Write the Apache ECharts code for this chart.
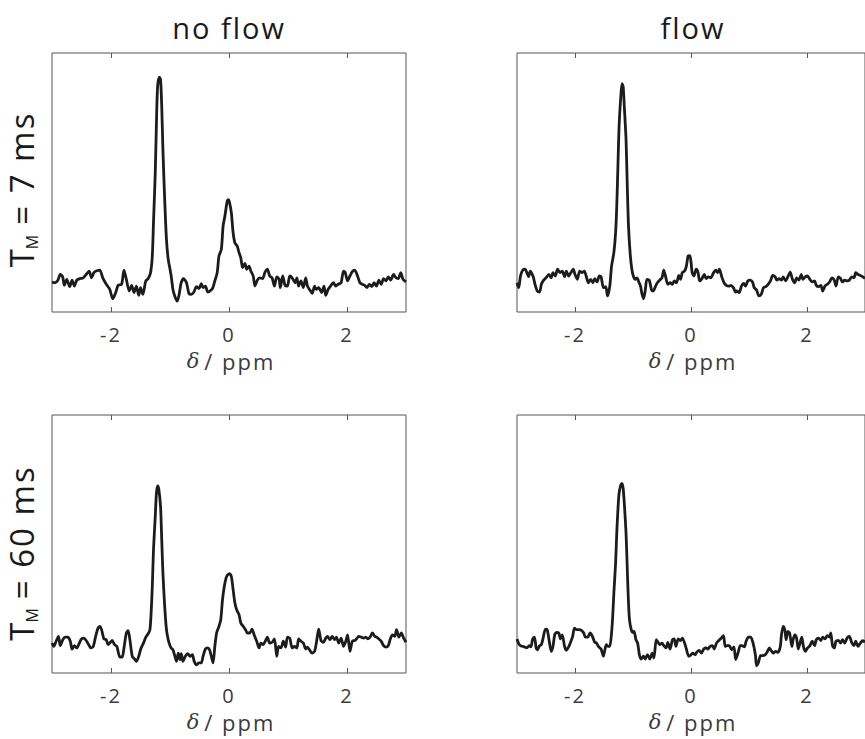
<!DOCTYPE html>
<html>
<head>
<meta charset="utf-8">
<script src="https://cdn.jsdelivr.net/npm/echarts@6.0.0/dist/echarts.min.js"></script>
<style>
  html, body { margin: 0; padding: 0; background: #fff; }
  #chart { width: 865px; height: 739px; }
  /* the original typesetting is a bit looser than Open Sans */
  #chart svg text { letter-spacing: 2px; }
</style>
</head>
<body>
<div id="chart"></div>
<script>
// spectra, [chemical shift in ppm, intensity in a.u.]
var noFlow7 = [
  [-3.00,11.6],[-2.95,11.3],[-2.90,12.3],[-2.86,14.5],[-2.82,13.6],[-2.79,10.3],[-2.75,12.6],[-2.70,9.8],
  [-2.66,12.3],[-2.62,10.0],[-2.58,12.3],[-2.53,12.9],[-2.47,13.2],[-2.42,14.5],[-2.37,15.8],[-2.33,13.2],
  [-2.29,15.2],[-2.25,15.8],[-2.19,16.2],[-2.14,13.2],[-2.08,10.7],[-2.02,8.7],[-1.97,5.1],[-1.92,7.5],
  [-1.88,10.3],[-1.82,10.7],[-1.78,16.2],[-1.74,12.6],[-1.69,8.1],[-1.65,10.3],[-1.61,7.5],[-1.57,10.0],
  [-1.53,6.4],[-1.50,9.4],[-1.46,6.8],[-1.41,12.0],[-1.37,12.9],[-1.33,15.2],[-1.30,21.6],[-1.28,34.4],
  [-1.25,53.7],[-1.23,73.0],[-1.21,87.1],[-1.18,90.7],[-1.16,89.7],[-1.14,79.4],[-1.12,62.7],[-1.09,43.4],
  [-1.06,28.0],[-1.03,20.3],[-1.00,16.5],[-0.98,13.9],[-0.95,8.7],[-0.92,6.2],[-0.88,4.2],[-0.85,6.2],
  [-0.81,11.3],[-0.77,12.9],[-0.72,11.3],[-0.68,7.2],[-0.64,6.8],[-0.60,7.5],[-0.55,9.8],[-0.51,9.0],
  [-0.47,10.9],[-0.44,9.4],[-0.40,10.0],[-0.36,7.7],[-0.33,8.0],[-0.28,9.0],[-0.24,12.0],[-0.20,15.2],
  [-0.17,21.6],[-0.13,24.2],[-0.10,33.2],[-0.07,37.0],[-0.03,42.8],[-0.01,43.4],[0.01,42.2],[0.04,38.3],
  [0.07,30.6],[0.10,26.7],[0.14,25.4],[0.17,22.9],[0.20,21.0],[0.23,17.1],[0.27,18.8],[0.30,16.5],
  [0.34,17.7],[0.37,15.8],[0.41,13.9],[0.44,10.0],[0.48,12.3],[0.52,13.2],[0.57,12.9],[0.61,15.4],
  [0.65,16.5],[0.69,13.9],[0.73,13.2],[0.77,10.0],[0.81,13.6],[0.85,12.6],[0.87,9.4],[0.91,13.9],
  [0.95,10.3],[0.99,10.0],[1.03,13.9],[1.07,13.2],[1.12,11.3],[1.15,13.2],[1.18,10.0],[1.22,12.0],
  [1.26,9.4],[1.30,13.2],[1.33,10.0],[1.37,8.5],[1.41,7.2],[1.45,10.0],[1.48,8.7],[1.52,9.4],
  [1.57,7.5],[1.61,10.0],[1.64,6.4],[1.68,8.7],[1.72,10.0],[1.77,11.3],[1.81,10.0],[1.85,10.7],
  [1.90,11.3],[1.94,15.8],[1.97,15.2],[2.01,12.0],[2.05,13.9],[2.09,15.6],[2.13,16.2],[2.17,14.5],
  [2.22,11.3],[2.26,10.7],[2.30,10.3],[2.34,9.4],[2.38,10.7],[2.42,9.8],[2.46,11.3],[2.50,10.0],
  [2.54,12.3],[2.58,10.7],[2.62,12.9],[2.66,12.0],[2.70,13.6],[2.74,12.3],[2.79,14.5],[2.83,13.2],
  [2.87,12.9],[2.91,15.2],[2.95,12.6],[3.00,11.6]
];

var flow7 = [
  [-3.00,11.3],[-2.97,9.4],[-2.94,13.9],[-2.90,16.2],[-2.86,16.5],[-2.83,15.2],[-2.80,13.6],[-2.77,15.8],
  [-2.72,13.6],[-2.69,10.7],[-2.65,8.1],[-2.61,7.7],[-2.58,10.7],[-2.54,12.3],[-2.50,13.2],[-2.45,14.5],
  [-2.41,13.2],[-2.38,15.2],[-2.34,13.9],[-2.30,16.5],[-2.26,15.2],[-2.22,15.8],[-2.18,13.6],[-2.15,15.8],
  [-2.11,13.9],[-2.07,15.2],[-2.03,16.5],[-2.00,14.5],[-1.96,12.6],[-1.92,15.8],[-1.88,15.2],[-1.84,15.8],
  [-1.81,14.1],[-1.77,11.3],[-1.73,12.6],[-1.69,11.3],[-1.66,12.9],[-1.62,11.6],[-1.58,13.9],[-1.55,13.6],
  [-1.51,9.4],[-1.47,9.8],[-1.44,6.2],[-1.40,10.0],[-1.37,17.7],[-1.33,22.9],[-1.30,30.6],[-1.28,40.9],
  [-1.26,56.3],[-1.24,71.7],[-1.21,83.3],[-1.19,88.2],[-1.17,87.1],[-1.15,79.4],[-1.12,66.6],[-1.10,49.9],
  [-1.08,34.4],[-1.05,22.9],[-1.02,16.5],[-0.99,13.6],[-0.96,12.6],[-0.93,13.2],[-0.90,11.6],[-0.87,10.0],
  [-0.85,7.5],[-0.82,5.1],[-0.79,8.1],[-0.76,12.6],[-0.72,12.3],[-0.68,8.5],[-0.65,8.1],[-0.61,10.0],
  [-0.58,11.3],[-0.54,12.3],[-0.50,13.2],[-0.47,16.2],[-0.44,13.9],[-0.40,10.7],[-0.36,11.3],[-0.32,10.7],
  [-0.29,12.0],[-0.25,11.3],[-0.21,14.1],[-0.18,12.6],[-0.15,15.2],[-0.11,15.8],[-0.08,17.7],[-0.05,21.6],
  [-0.02,21.8],[0.00,19.3],[0.02,15.2],[0.05,13.9],[0.09,16.5],[0.12,15.4],[0.15,12.0],[0.19,12.9],
  [0.23,14.5],[0.26,12.9],[0.30,13.6],[0.34,13.2],[0.39,15.2],[0.43,16.2],[0.46,15.2],[0.49,16.5],
  [0.53,13.6],[0.57,11.3],[0.61,10.3],[0.65,10.0],[0.69,10.3],[0.73,9.4],[0.77,7.7],[0.79,8.1],
  [0.83,7.5],[0.87,10.0],[0.91,11.0],[0.94,10.0],[0.98,12.0],[1.02,12.3],[1.06,11.6],[1.09,9.4],
  [1.13,8.5],[1.17,6.2],[1.21,6.8],[1.25,9.4],[1.29,9.8],[1.33,10.7],[1.37,12.0],[1.41,14.1],
  [1.45,13.6],[1.48,12.3],[1.52,12.9],[1.56,12.3],[1.59,13.6],[1.63,12.0],[1.67,13.6],[1.71,15.4],
  [1.75,12.6],[1.79,11.3],[1.82,13.2],[1.86,12.3],[1.90,14.5],[1.93,12.6],[1.97,13.6],[2.01,13.9],
  [2.05,12.6],[2.09,11.6],[2.13,12.0],[2.16,10.3],[2.20,9.8],[2.24,10.3],[2.27,8.1],[2.31,10.0],
  [2.35,10.7],[2.39,11.6],[2.43,13.2],[2.47,12.3],[2.50,10.0],[2.54,13.6],[2.58,12.9],[2.61,11.6],
  [2.65,12.3],[2.69,12.0],[2.73,12.3],[2.77,13.6],[2.81,13.2],[2.84,15.2],[2.88,14.5],[2.92,14.1],
  [2.96,13.6],[3.00,13.0]
];

var noFlow60 = [
  [-3.00,11.6],[-2.97,10.3],[-2.93,12.3],[-2.89,14.2],[-2.86,10.6],[-2.81,13.2],[-2.77,13.9],[-2.73,13.9],
  [-2.69,12.3],[-2.66,9.3],[-2.62,10.6],[-2.58,9.7],[-2.54,11.4],[-2.50,13.2],[-2.46,13.5],[-2.42,12.6],
  [-2.38,11.0],[-2.34,9.7],[-2.30,10.3],[-2.26,14.2],[-2.22,17.4],[-2.19,18.1],[-2.16,16.8],[-2.12,13.2],
  [-2.08,12.9],[-2.05,11.0],[-2.01,11.9],[-1.98,12.6],[-1.94,11.0],[-1.90,10.3],[-1.85,6.2],[-1.81,6.2],
  [-1.78,9.7],[-1.74,15.5],[-1.71,16.4],[-1.68,12.9],[-1.64,6.5],[-1.60,5.4],[-1.57,4.5],[-1.53,6.5],
  [-1.49,9.7],[-1.45,11.6],[-1.41,13.9],[-1.37,15.2],[-1.34,16.8],[-1.32,23.2],[-1.30,33.5],[-1.28,47.7],
  [-1.25,60.6],[-1.23,69.7],[-1.21,72.5],[-1.19,71.2],[-1.16,64.5],[-1.14,51.6],[-1.12,38.7],[-1.09,25.8],
  [-1.06,16.8],[-1.03,12.9],[-1.00,10.6],[-0.98,9.7],[-0.95,9.0],[-0.92,6.7],[-0.89,4.5],[-0.86,7.7],
  [-0.83,5.2],[-0.81,7.5],[-0.78,4.5],[-0.74,6.5],[-0.70,7.5],[-0.66,6.5],[-0.62,7.1],[-0.59,4.5],
  [-0.55,3.2],[-0.51,3.9],[-0.47,3.9],[-0.44,6.5],[-0.40,9.3],[-0.36,9.7],[-0.33,9.0],[-0.30,6.5],
  [-0.27,3.9],[-0.24,10.3],[-0.21,15.5],[-0.17,18.1],[-0.14,20.6],[-0.11,28.4],[-0.08,33.5],[-0.05,36.8],
  [-0.02,38.1],[0.01,38.5],[0.04,37.4],[0.07,32.3],[0.10,27.1],[0.13,24.5],[0.17,22.6],[0.20,19.4],
  [0.24,18.1],[0.28,16.8],[0.31,15.5],[0.35,15.5],[0.39,17.0],[0.43,14.5],[0.47,12.3],[0.51,9.7],
  [0.54,11.6],[0.58,11.0],[0.62,12.6],[0.65,13.9],[0.69,11.6],[0.73,11.9],[0.77,13.2],[0.81,6.5],
  [0.84,10.3],[0.88,9.7],[0.92,12.3],[0.96,10.0],[0.99,13.9],[1.03,13.5],[1.07,9.7],[1.11,10.3],
  [1.15,9.7],[1.18,13.2],[1.22,12.3],[1.26,11.6],[1.30,9.3],[1.33,10.0],[1.37,8.8],[1.41,7.7],
  [1.45,8.4],[1.48,11.6],[1.52,17.0],[1.56,12.6],[1.60,11.9],[1.64,13.5],[1.67,14.2],[1.71,12.9],
  [1.75,14.2],[1.79,12.9],[1.82,13.9],[1.86,11.6],[1.90,13.5],[1.94,10.3],[1.98,12.3],[2.01,14.8],
  [2.05,8.4],[2.09,12.3],[2.13,12.6],[2.16,13.2],[2.20,14.2],[2.24,13.9],[2.28,13.5],[2.32,13.9],
  [2.35,13.2],[2.39,13.9],[2.43,15.5],[2.47,14.2],[2.50,13.9],[2.54,13.2],[2.58,12.3],[2.62,10.6],
  [2.66,10.0],[2.70,10.6],[2.73,12.9],[2.77,14.8],[2.81,14.2],[2.84,16.8],[2.88,13.9],[2.92,15.5],
  [2.96,13.5],[3.00,11.9]
];

var flow60 = [
  [-3.00,13.2],[-2.97,11.4],[-2.94,10.6],[-2.90,10.3],[-2.87,10.1],[-2.83,9.7],[-2.79,10.6],[-2.76,10.1],
  [-2.73,13.2],[-2.70,13.9],[-2.67,9.7],[-2.65,9.0],[-2.61,10.6],[-2.58,11.0],[-2.55,13.5],[-2.51,17.0],
  [-2.48,16.8],[-2.45,13.2],[-2.41,8.4],[-2.38,10.3],[-2.35,14.8],[-2.32,15.7],[-2.28,15.5],[-2.25,13.2],
  [-2.22,14.8],[-2.18,10.3],[-2.15,8.8],[-2.11,10.1],[-2.07,12.3],[-2.04,14.2],[-2.01,17.4],[-1.97,16.8],
  [-1.93,16.8],[-1.89,16.5],[-1.85,15.5],[-1.82,13.9],[-1.78,13.9],[-1.74,15.5],[-1.70,14.2],[-1.66,11.9],
  [-1.63,11.6],[-1.59,10.1],[-1.55,9.3],[-1.51,6.5],[-1.49,8.4],[-1.46,11.0],[-1.43,10.3],[-1.40,10.3],
  [-1.37,15.5],[-1.35,21.9],[-1.33,31.0],[-1.30,42.6],[-1.28,54.2],[-1.26,63.2],[-1.24,69.7],[-1.21,72.9],
  [-1.19,73.5],[-1.17,71.6],[-1.15,65.8],[-1.12,54.2],[-1.10,41.3],[-1.08,28.4],[-1.06,20.6],[-1.03,16.8],
  [-1.00,15.7],[-0.98,16.1],[-0.95,12.9],[-0.92,11.6],[-0.89,7.1],[-0.86,5.4],[-0.82,6.5],[-0.79,5.4],
  [-0.75,7.1],[-0.71,5.4],[-0.67,7.7],[-0.64,5.8],[-0.60,12.9],[-0.58,12.3],[-0.54,11.0],[-0.50,11.6],
  [-0.47,10.6],[-0.43,9.7],[-0.40,11.9],[-0.36,9.3],[-0.32,12.9],[-0.29,13.2],[-0.26,10.3],[-0.22,13.2],
  [-0.18,12.6],[-0.15,13.5],[-0.11,11.6],[-0.08,9.3],[-0.04,6.5],[-0.01,6.8],[0.03,7.7],[0.07,7.1],
  [0.10,8.1],[0.14,8.8],[0.18,7.7],[0.22,9.3],[0.26,9.7],[0.29,9.3],[0.33,10.3],[0.37,10.6],
  [0.40,9.3],[0.44,11.6],[0.48,12.6],[0.52,13.5],[0.56,14.5],[0.59,10.3],[0.62,10.6],[0.66,10.6],
  [0.70,9.0],[0.74,10.1],[0.77,5.2],[0.81,7.7],[0.85,10.6],[0.88,10.6],[0.92,10.1],[0.95,12.3],
  [0.99,13.9],[1.03,13.9],[1.07,11.6],[1.11,7.1],[1.13,2.8],[1.16,3.9],[1.20,6.7],[1.24,6.7],
  [1.28,7.1],[1.31,8.0],[1.35,9.7],[1.38,8.8],[1.42,7.7],[1.46,8.4],[1.50,8.0],[1.54,10.3],
  [1.56,14.8],[1.59,18.1],[1.62,16.5],[1.64,12.9],[1.67,16.1],[1.70,15.5],[1.74,10.3],[1.76,12.9],
  [1.79,14.8],[1.82,13.5],[1.85,9.3],[1.88,11.6],[1.91,13.9],[1.94,10.1],[1.97,8.4],[2.01,9.7],
  [2.05,10.6],[2.09,12.3],[2.13,10.6],[2.16,12.9],[2.20,13.5],[2.24,12.6],[2.27,13.9],[2.31,13.2],
  [2.35,14.5],[2.39,13.9],[2.41,15.5],[2.44,10.6],[2.47,9.7],[2.50,12.3],[2.54,12.6],[2.58,11.6],
  [2.61,12.9],[2.65,11.6],[2.69,13.5],[2.73,14.2],[2.77,11.9],[2.81,10.6],[2.84,12.3],[2.88,10.3],
  [2.92,11.6],[2.96,12.5],[3.00,12.0]
];

var columnTitles = ['no flow', 'flow'];
var rowLabels = ['T{sub|M}= 7 ms', 'T{sub|M}= 60 ms'];
var xName = '{it|δ}/ ppm';
var xTicks = [-2, 0, 2];

var panels = [
  { data: noFlow7,  grid: { left: 52,  top: 53,  width: 354, height: 259 } },
  { data: flow7,    grid: { left: 517, top: 53,  width: 353, height: 259 } },
  { data: noFlow60, grid: { left: 52,  top: 415, width: 354, height: 258 } },
  { data: flow60,   grid: { left: 517, top: 415, width: 353, height: 258 } }
];

var axisColor = '#555555';
var textColor = '#3c3c3c';
var sansFont = '"Open Sans", "Noto Sans", sans-serif';

var chart = echarts.init(document.getElementById('chart'), null, { renderer: 'svg' });

var grid = [], xAxis = [], yAxis = [], series = [];
panels.forEach(function (p, i) {
  grid.push(Object.assign({
    show: true, borderColor: axisColor, borderWidth: 1, backgroundColor: 'transparent'
  }, p.grid));

  xAxis.push({
    type: 'value', gridIndex: i, min: -3, max: 3, position: 'bottom',
    axisLine: { show: false },
    axisTick: { show: true, inside: true, length: 5, customValues: xTicks, lineStyle: { color: axisColor } },
    axisLabel: { show: true, customValues: xTicks, margin: 12, color: textColor, fontSize: 20, fontFamily: sansFont },
    splitLine: { show: false },
    name: xName, nameLocation: 'middle', nameGap: 38,
    nameTextStyle: {
      color: textColor, fontSize: 22, fontFamily: sansFont,
      rich: {
        // gap after the symbol comes from padding, spaces at token edges get lost
        it: { fontFamily: '"DejaVu Serif", serif', fontStyle: 'italic', fontSize: 21, color: textColor, padding: [0, 9, 0, 0] }
      }
    }
  });
  // ticks along the top edge
  xAxis.push({
    type: 'value', gridIndex: i, min: -3, max: 3, position: 'top',
    axisLine: { show: false },
    axisTick: { show: true, inside: true, length: 5, customValues: xTicks, lineStyle: { color: axisColor } },
    axisLabel: { show: false },
    splitLine: { show: false }
  });

  yAxis.push({
    type: 'value', gridIndex: i, min: 0, max: 100,
    axisLine: { show: false }, axisTick: { show: false }, axisLabel: { show: false }, splitLine: { show: false }
  });

  series.push({
    type: 'line', xAxisIndex: i * 2, yAxisIndex: i, data: p.data,
    showSymbol: false, smooth: 0.25, clip: true,
    lineStyle: { color: '#1c1c1c', width: 2.8 }
  });
});

function titleText(text, x) {
  return {
    type: 'text', x: x, y: 27,
    style: { text: text, fill: '#1a1a1a', font: '29px ' + sansFont, align: 'center', verticalAlign: 'middle' }
  };
}

function rowText(text, y) {
  return {
    type: 'text', x: 21, y: y, rotation: Math.PI / 2,
    style: {
      text: text, fill: '#1a1a1a', font: '33px ' + sansFont, lineHeight: 30,
      align: 'center', verticalAlign: 'middle',
      rich: { sub: { fontSize: 16, lineHeight: 16, fontFamily: sansFont, fill: '#1a1a1a', padding: [22, 15, 0, 0] } }
    }
  };
}

var option = {
  animation: false,
  backgroundColor: '#ffffff',
  grid: grid,
  xAxis: xAxis,
  yAxis: yAxis,
  series: series,
  graphic: [
    titleText(columnTitles[0], 229),
    titleText(columnTitles[1], 693),
    rowText(rowLabels[0], 192),
    rowText(rowLabels[1], 556)
  ]
};

chart.setOption(option);
</script>
</body>
</html>
